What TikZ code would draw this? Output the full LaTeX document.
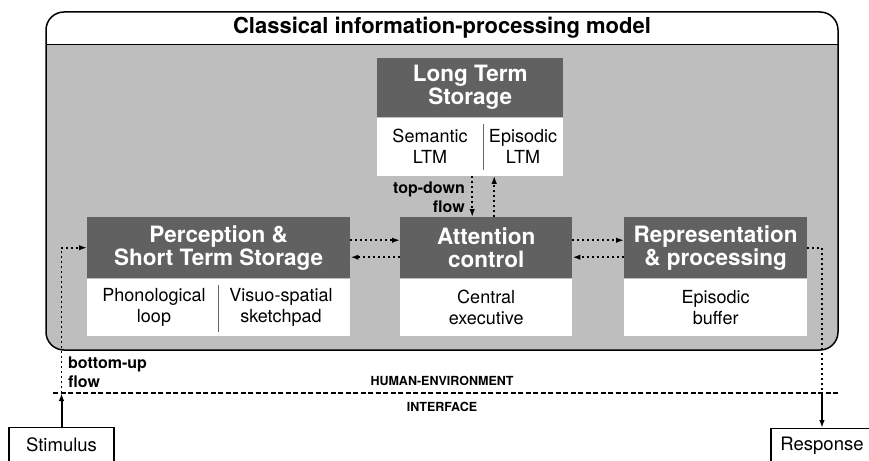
\documentclass[tikz,border=0pt]{standalone}
\usepackage{fontspec}
\setmainfont{TeX Gyre Heros}
\usetikzlibrary{arrows.meta}

\definecolor{panelgray}{HTML}{BEBEBE}
\definecolor{headgray}{HTML}{616161}

\tikzset{
  hdr/.style={fill=headgray, text=white, font=\bfseries\fontsize{22.5}{23}\selectfont,
    align=center, inner sep=0pt, anchor=north west},
  bodybox/.style={fill=white, inner sep=0pt, anchor=north},
  bodytxt/.style={font=\fontsize{18}{21}\selectfont, align=center, inner sep=0pt},
  divider/.style={draw=black!60, line width=1pt},
  tip/.style={-{Latex[length=8pt,width=5.5pt]}},
  dotflow/.style={line width=1.8pt, dash pattern=on 2pt off 3pt},
  solidflow/.style={line width=2pt},
  flowlbl/.style={font=\bfseries\fontsize{16}{18.5}\selectfont, inner sep=0pt},
  ifacelbl/.style={font=\bfseries\fontsize{12.5}{14}\selectfont, inner sep=0pt},
  endbox/.style={draw, line width=1.4pt, fill=white, font=\fontsize{18.5}{21}\selectfont,
    inner sep=0pt, anchor=north}
}

\begin{document}
\begin{tikzpicture}[x=1pt, y=-1pt]
\useasboundingbox (0,0) rectangle (869,460);

% outer panel with white title band
\fill[panelgray, rounded corners=18pt] (46,12) rectangle (838,350);
\begin{scope}
  \clip[rounded corners=18pt] (46,12) rectangle (838,350);
  \fill[white] (46,12) rectangle (838,45);
\end{scope}
\draw[line width=1pt] (46,45) -- (838,45);
\draw[line width=1.5pt, rounded corners=18pt] (46,12) rectangle (838,350);
\node[font=\bfseries\fontsize{22}{24}\selectfont, inner sep=0pt] (title) at (442,28)
  {Classical information-processing model};

% Long term storage
\node[hdr, minimum width=186pt, minimum height=59pt] (ltsH) at (377,58) {Long Term\\Storage};
\node[bodybox, minimum width=186pt, minimum height=58pt] (ltsB) at (ltsH.south) {};
\draw[divider] (483,124) -- (483,170);
\node[bodytxt] (sem) at (430,146) {Semantic\\LTM};
\node[bodytxt] (epi) at (523,146) {Episodic\\LTM};

% Perception & short term storage
\node[hdr, minimum width=263pt, minimum height=61pt] (percH) at (87,217) {Perception \&\\Short Term Storage};
\node[bodybox, minimum width=263pt, minimum height=57pt] (percB) at (percH.south) {};
\draw[divider] (218,285) -- (218,332);
\node[bodytxt] (phon) at (154,307) {Phonological\\loop};
\node[bodytxt] (visuo) at (281,307) {Visuo-spatial\\sketchpad};

% Attention control
\node[hdr, minimum width=172pt, minimum height=61pt] (attH) at (400,217) {Attention\\control};
\node[bodybox, minimum width=172pt, minimum height=57pt] (attB) at (attH.south) {};
\node[bodytxt] (cexec) at (attB.center) {Central\\executive};

% Representation & processing
\node[hdr, minimum width=183pt, minimum height=61pt] (repH) at (624,217) {Representation\\\& processing};
\node[bodybox, minimum width=183pt, minimum height=57pt] (repB) at (repH.south) {};
\node[bodytxt] (ebuf) at (repB.center) {Episodic\\buffer};

% horizontal flows between the modules
\draw[dotflow, tip] ([yshift=7.5pt]percH.east) -- ([yshift=7.5pt]attH.west);
\draw[dotflow, tip] ([yshift=-9.5pt]attH.west) -- ([yshift=-9.5pt]percH.east);
\draw[dotflow, tip] ([yshift=7.5pt]attH.east) -- ([yshift=7.5pt]repH.west);
\draw[dotflow, tip] ([yshift=-9.5pt]repH.west) -- ([yshift=-9.5pt]attH.east);

% vertical flows with long term storage
\draw[dotflow, tip] ([xshift=2pt]ltsB.south) -- ([xshift=2pt]ltsB.south |- attH.north);
\draw[dotflow, tip] ([xshift=24pt]ltsB.south |- attH.north) -- ([xshift=24pt]ltsB.south);
\node[flowlbl, anchor=east, align=right] (tdl) at (465,197) {top-down\\flow};

% human-environment interface
\coordinate (ifL) at (53,393);
\coordinate (ifR) at (838,393);
\draw[line width=1.1pt, dash pattern=on 5pt off 2.5pt] (ifL) -- (ifR);
\node[ifacelbl] (ifa) at (442,381) {HUMAN{-}ENVIRONMENT};
\node[ifacelbl] (ifb) at (442,407) {INTERFACE};

% stimulus and response
\node[endbox, minimum width=105pt, minimum height=34pt] (stim) at (61.5,427) {Stimulus};
\node[endbox, minimum width=102pt, minimum height=34pt] (resp) at (822,428) {Response};

\coordinate (buI) at (stim.north |- ifL);
\draw[solidflow, tip] (stim.north) -- (buI);
\draw[dotflow, tip] (buI) |- (percH.west);
\node[flowlbl, anchor=west, align=left] (bul) at (68,372) {bottom-up\\flow};

\coordinate (rsI) at (resp.north |- ifL);
\draw[dotflow] (repH.east) -| (rsI);
\draw[solidflow, tip] (rsI) -- (resp.north);
\end{tikzpicture}
\end{document}
